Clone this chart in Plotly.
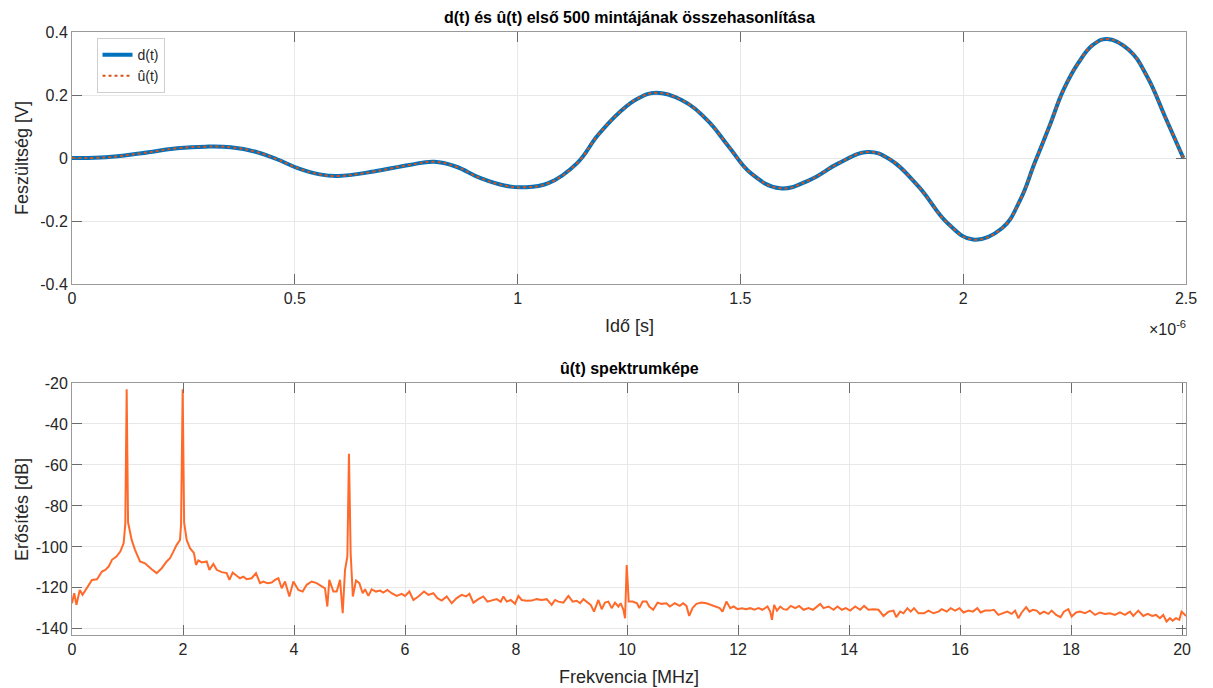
import plotly.graph_objects as go

# ---- time-domain comparison (first 500 samples), time in microseconds ----
t_us = [0.000, 0.076, 0.156, 0.236, 0.300, 0.356, 0.412, 0.460, 0.508, 0.556,
        0.597, 0.677, 0.757, 0.813, 0.861, 0.917, 0.973, 1.013, 1.069, 1.133,
        1.180, 1.230, 1.270, 1.311, 1.368, 1.425, 1.474, 1.524, 1.589, 1.655,
        1.720, 1.785, 1.834, 1.900, 1.965, 2.022, 2.087, 2.128, 2.160, 2.193,
        2.225, 2.258, 2.291, 2.323, 2.372, 2.413, 2.453, 2.494]
d_vals = [0.000, 0.002, 0.015, 0.031, 0.036, 0.034, 0.020, -0.004, -0.033, -0.052,
          -0.057, -0.043, -0.022, -0.012, -0.027, -0.064, -0.088, -0.093, -0.080, -0.017,
          0.072, 0.147, 0.189, 0.207, 0.184, 0.121, 0.036, -0.049, -0.096, -0.070,
          -0.017, 0.019, -0.003, -0.091, -0.207, -0.259, -0.223, -0.133, -0.017, 0.099,
          0.216, 0.301, 0.359, 0.378, 0.343, 0.258, 0.131, 0.000]
u_vals = [0.000, 0.002, 0.015, 0.031, 0.036, 0.034, 0.020, -0.004, -0.033, -0.052,
          -0.057, -0.043, -0.022, -0.012, -0.027, -0.064, -0.088, -0.093, -0.080, -0.017,
          0.072, 0.147, 0.189, 0.207, 0.184, 0.121, 0.036, -0.049, -0.096, -0.070,
          -0.017, 0.019, -0.003, -0.091, -0.207, -0.259, -0.223, -0.133, -0.017, 0.099,
          0.216, 0.301, 0.359, 0.378, 0.343, 0.258, 0.131, 0.000]

# ---- spectrum of u_hat(t) ----
freq_mhz = [
    0.00, 0.04, 0.08, 0.14, 0.19, 0.26, 0.36, 0.45, 0.54, 0.60, 0.66, 0.72, 0.80, 0.87, 0.93,
    0.96, 0.985, 1.01, 1.04, 1.075, 1.135, 1.195, 1.225, 1.315, 1.375, 1.435, 1.525, 1.616,
    1.706, 1.766, 1.826, 1.886, 1.946, 1.965, 1.994, 2.02, 2.066, 2.126, 2.198, 2.234, 2.276,
    2.336, 2.427, 2.475, 2.547, 2.607, 2.697, 2.787, 2.835, 2.895, 2.967, 3.027, 3.087, 3.147,
    3.237, 3.315, 3.387, 3.447, 3.52, 3.597, 3.658, 3.718, 3.778, 3.838, 3.916, 3.988, 4.078,
    4.156, 4.228, 4.318, 4.408, 4.498, 4.558, 4.60, 4.636, 4.709, 4.769, 4.829, 4.877, 4.919,
    4.961, 4.99, 5.02, 5.06, 5.117, 5.177, 5.237, 5.279, 5.339, 5.399, 5.477, 5.549, 5.609,
    5.681, 5.759, 5.85, 5.94, 6.0, 6.078, 6.15, 6.24, 6.342, 6.42, 6.51, 6.583, 6.661, 6.751,
    6.841, 6.931, 7.021, 7.099, 7.159, 7.231, 7.321, 7.411, 7.484, 7.562, 7.652, 7.724, 7.772,
    7.832, 7.904, 7.982, 8.042, 8.102, 8.192, 8.282, 8.372, 8.462, 8.552, 8.642, 8.703, 8.763,
    8.853, 8.943, 9.021, 9.093, 9.153, 9.213, 9.273, 9.345, 9.405, 9.483, 9.543, 9.603, 9.663,
    9.723, 9.783, 9.844, 9.886, 9.934, 9.964, 9.994, 10.03, 10.10, 10.18, 10.22, 10.28, 10.35,
    10.40, 10.47, 10.55, 10.62, 10.71, 10.77, 10.86, 10.95, 11.01, 11.07, 11.12, 11.18, 11.25,
    11.34, 11.43, 11.52, 11.61, 11.67, 11.72, 11.79, 11.86, 11.92, 11.99, 12.07, 12.14, 12.22,
    12.29, 12.37, 12.44, 12.53, 12.58, 12.61, 12.65, 12.70, 12.76, 12.82, 12.88, 12.95, 13.03,
    13.10, 13.18, 13.27, 13.35, 13.42, 13.48, 13.54, 13.63, 13.72, 13.79, 13.87, 13.94, 14.02,
    14.11, 14.20, 14.27, 14.35, 14.44, 14.53, 14.62, 14.71, 14.80, 14.85, 14.92, 14.98, 15.05,
    15.11, 15.17, 15.25, 15.35, 15.43, 15.52, 15.61, 15.67, 15.76, 15.83, 15.91, 15.99, 16.06,
    16.15, 16.23, 16.31, 16.37, 16.45, 16.54, 16.61, 16.69, 16.78, 16.85, 16.93, 16.99, 17.05,
    17.11, 17.19, 17.25, 17.31, 17.38, 17.44, 17.51, 17.59, 17.65, 17.73, 17.81, 17.87, 17.95,
    18.01, 18.09, 18.16, 18.25, 18.34, 18.43, 18.52, 18.61, 18.70, 18.79, 18.88, 18.97, 19.06,
    19.12, 19.21, 19.30, 19.38, 19.46, 19.53, 19.60, 19.66, 19.72, 19.78, 19.83, 19.89, 19.95,
    19.99, 20.07]
gain_db = [
    -127.5, -122.6, -128.3, -121.0, -123.4, -120.2, -116.1, -115.8, -112.0, -111.2, -109.6, -106.3, -104.7, -102.3, -98.2,
    -89.0, -23.0, -88.0, -92.0, -96.6, -101.4, -105.5, -107.1, -108.0, -109.6, -110.9, -112.8, -110.4,
    -107.1, -105.5, -102.3, -99.0, -96.6, -89.0, -23.0, -88.0, -96.6, -100.6, -103.1, -108.8, -106.6,
    -107.6, -107.1, -111.2, -108.3, -111.2, -112.3, -112.8, -116.1, -112.5, -114.1, -115.3, -114.5, -115.8,
    -115.3, -112.8, -117.7, -116.9, -117.7, -117.4, -116.1, -115.3, -120.2, -116.9, -124.2, -116.9, -121.0,
    -121.8, -118.5, -116.9, -117.7, -119.3, -120.2, -129.1, -116.1, -121.8, -121.8, -116.1, -132.4, -111.2,
    -104.7, -54.5, -103.0, -124.2, -116.4, -117.7, -122.6, -120.7, -123.9, -120.7, -121.8, -121.3, -122.3,
    -121.0, -122.6, -123.9, -122.9, -123.9, -121.8, -125.9, -124.2, -121.8, -123.4, -122.6, -125.0, -126.2, -124.2,
    -127.5, -125.0, -123.4, -124.2, -122.9, -127.2, -125.5, -124.2, -126.7, -126.2, -125.5, -126.8, -124.2,
    -126.7, -125.9, -127.8, -123.9, -125.9, -126.3, -126.2, -125.5, -125.9, -125.5, -128.3, -125.9, -126.7,
    -127.2, -123.9, -126.7, -126.3, -127.5, -125.5, -126.7, -128.3, -131.6, -125.9, -130.4, -127.2, -126.7,
    -129.9, -127.2, -129.1, -127.5, -130.7, -134.8, -108.8, -126.7, -126.7, -127.5, -129.9, -126.7, -126.7,
    -129.1, -130.7, -127.2, -127.8, -127.5, -129.1, -127.5, -128.8, -127.5, -128.8, -133.7, -129.9, -127.8,
    -127.2, -127.5, -128.3, -129.1, -129.9, -131.6, -126.7, -129.9, -129.1, -130.4, -129.9, -130.4, -129.9,
    -130.7, -129.9, -130.7, -129.1, -131.6, -135.6, -128.3, -131.1, -129.1, -130.4, -130.7, -128.8, -129.9,
    -128.8, -130.7, -129.9, -130.7, -129.1, -127.8, -129.9, -129.1, -130.7, -129.1, -130.7, -129.9, -131.1,
    -129.1, -130.7, -128.8, -130.7, -130.4, -130.7, -133.7, -131.6, -131.1, -134.3, -131.6, -132.4, -129.9,
    -131.6, -129.9, -132.4, -132.4, -131.1, -132.4, -131.6, -130.4, -131.6, -129.9, -131.1, -129.9, -132.0,
    -131.1, -131.6, -129.9, -132.0, -131.1, -131.1, -130.7, -133.2, -132.4, -131.6, -132.7, -131.1, -134.8,
    -132.0, -129.4, -131.6, -130.7, -131.1, -132.7, -131.6, -132.7, -131.1, -133.2, -134.3, -131.6, -130.4,
    -134.0, -132.0, -131.6, -132.4, -131.1, -133.2, -132.0, -132.7, -132.4, -133.2, -132.0, -133.2, -131.6,
    -133.7, -131.1, -133.7, -132.7, -133.7, -133.2, -134.8, -133.2, -136.4, -134.8, -136.0, -134.8, -135.6,
    -131.6, -133.7]

time_ticks_us = [0, 0.5, 1, 1.5, 2, 2.5]
time_tick_text = ["0", "0.5", "1", "1.5", "2", "2.5"]
volt_ticks = [-0.4, -0.2, 0, 0.2, 0.4]
volt_tick_text = ["-0.4", "-0.2", "0", "0.2", "0.4"]
freq_ticks = [0, 2, 4, 6, 8, 10, 12, 14, 16, 18, 20]
db_ticks = [-140, -120, -100, -80, -60, -40, -20]
db_tick_text = ["-140", "-120", "-100", "-80", "-60", "-40", "-20"]

t_sec = [v * 1e-6 for v in t_us]

FONT = "Liberation Sans, Arial, sans-serif"
TICK_COLOR = "#262626"
GRID = "#e8e8e8"
FRAME = "#9a9a9a"

fig = go.Figure()

fig.add_trace(go.Scatter(
    x=t_sec, y=d_vals, name="d(t)", mode="lines",
    line=dict(color="#0072BD", width=4, shape="spline", smoothing=1.2),
    xaxis="x", yaxis="y"))
fig.add_trace(go.Scatter(
    x=t_sec, y=u_vals, name="û(t)", mode="lines",
    line=dict(color="#D95319", width=2, dash="dot", shape="spline", smoothing=1.2),
    xaxis="x", yaxis="y"))
fig.add_trace(go.Scatter(
    x=freq_mhz, y=gain_db, mode="lines", showlegend=False,
    line=dict(color="#FF6A2A", width=2),
    xaxis="x2", yaxis="y2"))

axis_common = dict(
    showgrid=True, gridcolor=GRID, gridwidth=1,
    showline=True, linecolor=FRAME, linewidth=1, mirror="ticks",
    ticks="inside", ticklen=10, tickcolor="#6b6b6b", tickwidth=1,
    zeroline=False, automargin=False,
    tickfont=dict(family=FONT, size=16, color=TICK_COLOR),
)

TOP_LOW = 0.5821
BOT_HIGH = 0.4179
label_font = dict(family=FONT, size=18, color=TICK_COLOR)
title_font = dict(family=FONT, size=16, color="black")

fig.update_layout(
    width=1213, height=688,
    margin=dict(l=72, r=27, t=32, b=53),
    paper_bgcolor="white", plot_bgcolor="white",
    font=dict(family=FONT, color=TICK_COLOR),
    xaxis=dict(axis_common, domain=[0, 1], anchor="y",
               range=[0, 2.5e-6], tickvals=[v * 1e-6 for v in time_ticks_us],
               ticktext=time_tick_text),
    yaxis=dict(axis_common, domain=[TOP_LOW, 1], anchor="x",
               range=[-0.4, 0.4], tickvals=volt_ticks, ticktext=volt_tick_text),
    xaxis2=dict(axis_common, domain=[0, 1], anchor="y2",
                range=[0, 20.07], tickvals=freq_ticks),
    yaxis2=dict(axis_common, domain=[0, BOT_HIGH], anchor="x2",
                range=[-143, -20], tickvals=db_ticks, ticktext=db_tick_text),
    legend=dict(x=0.022, y=0.99, xanchor="left", yanchor="top",
                bgcolor="white", bordercolor="#cfcfcf", borderwidth=1,
                font=dict(family=FONT, size=14, color=TICK_COLOR),
                tracegroupgap=0, itemwidth=30),
    annotations=[
        dict(text="<b>d(t) és û(t) első 500 mintájának összehasonlítása</b>",
             xref="paper", yref="paper", x=0.5, y=1.0, yshift=4,
             xanchor="center", yanchor="bottom", showarrow=False, font=title_font),
        dict(text="<b>û(t) spektrumképe</b>",
             xref="paper", yref="paper", x=0.5, y=BOT_HIGH, yshift=4,
             xanchor="center", yanchor="bottom", showarrow=False, font=title_font),
        dict(text="Idő [s]", xref="paper", yref="paper", x=0.5, y=0.5124,
             xanchor="center", yanchor="middle", showarrow=False, font=label_font),
        dict(text="Frekvencia [MHz]", xref="paper", yref="paper", x=0.5, y=-0.0697,
             xanchor="center", yanchor="middle", showarrow=False, font=label_font),
        dict(text="Feszültség [V]", xref="paper", yref="paper", x=-0.0449, y=0.791,
             xanchor="center", yanchor="middle", textangle=-90, showarrow=False,
             font=label_font),
        dict(text="Erősítés [dB]", xref="paper", yref="paper", x=-0.0449, y=0.209,
             xanchor="center", yanchor="middle", textangle=-90, showarrow=False,
             font=label_font),
        dict(text="×10<sup>-6</sup>",
             xref="paper", yref="paper", x=1.0, y=TOP_LOW, yshift=-32, xshift=2,
             xanchor="right", yanchor="top", showarrow=False,
             font=dict(family=FONT, size=16, color=TICK_COLOR)),
    ],
)

fig.write_html("out.html")
